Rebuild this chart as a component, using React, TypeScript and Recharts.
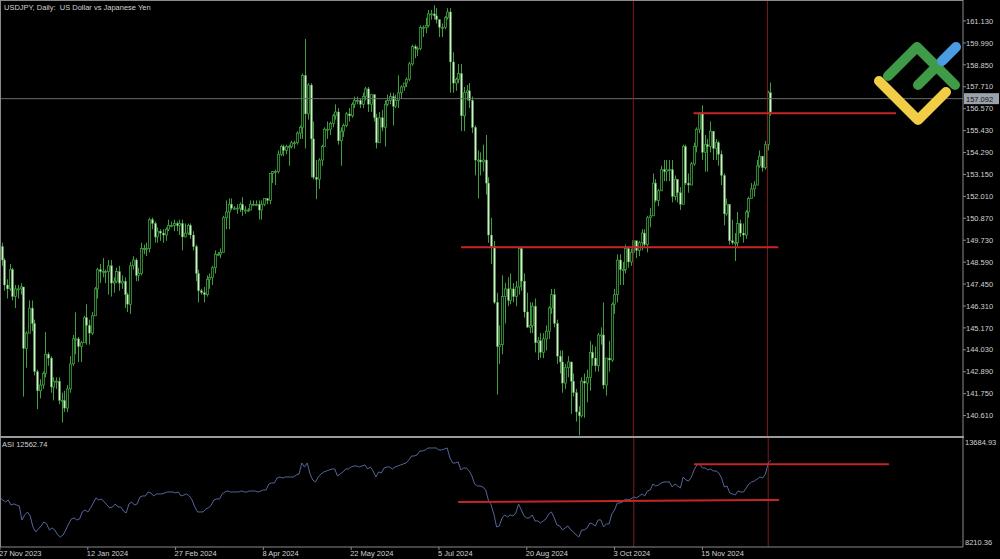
import React from "react";
import { ComposedChart, Bar, Line, XAxis, YAxis, ReferenceLine } from "recharts";

// USDJPY daily candles + ASI indicator, MT-style dark chart

const dateLabels = ["27 Nov 2023", "12 Jan 2024", "27 Feb 2024", "8 Apr 2024", "22 May 2024", "5 Jul 2024", "20 Aug 2024", "3 Oct 2024", "15 Nov 2024"];
const labelBars = [0, 32, 64, 96, 128, 160, 192, 224, 256];
const priceTicks = [161.13, 159.99, 158.85, 157.71, 156.57, 155.43, 154.29, 153.15, 152.01, 150.87, 149.73, 148.59, 147.45, 146.31, 145.17, 144.03, 142.89, 141.75, 140.61];

const firstOpen = 149.4;
const closes = [
  148.7, 147.4, 147.2, 148.2, 146.8, 147.2, 147.2, 147.3, 144.1, 144.9,
  146.2, 145.4, 142.9, 141.9, 142.2, 142.8, 143.8, 143.6, 142.1, 142.4,
  142.4, 141.4, 141.4, 141.0, 142.0, 143.3, 144.6, 144.6, 144.2, 144.4,
  145.7, 145.3, 144.9, 145.8, 147.2, 148.2, 148.1, 148.1, 148.1, 148.4,
  147.5, 147.6, 148.1, 147.5, 147.6, 146.9, 146.4, 148.4, 148.7, 147.9,
  148.0, 149.3, 149.3, 149.3, 150.8, 150.6, 149.9, 150.2, 150.1, 150.0,
  150.3, 150.5, 150.5, 150.6, 150.5, 150.6, 149.9, 150.1, 150.5, 150.0,
  149.4, 148.0, 147.1, 147.0, 146.9, 147.7, 147.8, 148.3, 149.0, 149.0,
  149.1, 150.9, 151.2, 151.6, 151.4, 151.4, 151.4, 151.6, 151.3, 151.3,
  151.3, 151.6, 151.6, 151.6, 151.3, 151.6, 151.9, 151.8, 153.2, 153.3,
  153.3, 154.2, 154.6, 154.4, 154.6, 154.6, 154.8, 154.8, 155.3, 155.6,
  158.3, 156.3, 157.8, 155.0, 153.0, 152.9, 153.9, 154.6, 155.5, 155.5,
  155.8, 156.2, 156.4, 154.9, 155.4, 155.7, 156.3, 156.2, 156.8, 157.0,
  157.0, 156.8, 157.2, 157.6, 156.8, 157.3, 156.1, 154.8, 156.1, 155.6,
  156.8, 157.0, 157.2, 156.7, 157.0, 157.4, 157.7, 157.9, 158.1, 158.9,
  159.8, 159.7, 159.7, 160.8, 160.8, 160.9, 161.5, 161.5, 161.4, 161.2,
  160.8, 160.8, 161.3, 161.6, 159.0, 157.9, 158.1, 158.4, 156.2, 157.4,
  157.5, 157.0, 155.6, 153.9, 153.9, 153.8, 153.9, 152.7, 150.0, 149.4,
  146.5, 144.2, 144.3, 146.8, 147.2, 146.6, 147.2, 146.8, 147.3, 149.3,
  147.6, 146.0, 145.2, 145.3, 146.3, 144.4, 144.5, 143.9, 144.6, 145.0,
  146.2, 146.9, 145.4, 143.7, 143.4, 142.3, 143.1, 143.4, 142.4, 141.8,
  140.8, 140.6, 142.4, 142.3, 142.6, 143.9, 143.6, 143.2, 144.8, 144.8,
  142.2, 143.6, 143.5, 146.4, 146.9, 148.7, 148.2, 148.2, 149.3, 148.6,
  149.1, 149.7, 149.2, 149.6, 150.1, 149.5, 150.9, 151.0, 152.7, 151.8,
  152.3, 153.4, 153.3, 153.4, 153.4, 152.0, 152.9, 152.2, 151.6, 154.6,
  152.7, 152.6, 153.7, 154.6, 155.5, 156.3, 154.3, 154.7, 154.6, 155.4,
  154.5, 154.8, 154.2, 153.1, 151.1, 151.6, 149.7, 149.6, 149.6, 150.6,
  150.1, 150.0, 151.2, 151.9, 152.4, 152.6, 153.6, 154.1, 153.5, 154.7,
  157.4, 156.4,
];
const highs = [
  149.6, 148.8, 147.7, 148.5, 148.3, 147.4, 147.4, 147.5, 147.3, 145.0,
  146.6, 146.6, 145.6, 143.0, 142.5, 142.9, 144.95, 143.9, 143.7, 142.6,
  142.6, 142.6, 141.8, 141.9, 142.2, 143.7, 144.8, 145.98, 144.7, 144.5,
  145.8, 146.4, 145.6, 146.0, 147.3, 148.3, 148.5, 148.8, 148.2, 148.7,
  148.7, 147.8, 148.3, 148.4, 147.9, 147.8, 147.0, 148.6, 148.9, 148.8,
  148.3, 149.6, 149.5, 149.6, 150.9, 150.9, 150.7, 150.4, 150.3, 150.3,
  150.4, 150.8, 150.7, 150.8, 150.7, 150.8, 150.8, 150.6, 150.6, 150.6,
  150.2, 149.5, 148.2, 147.2, 147.3, 147.9, 148.0, 148.4, 149.2, 149.1,
  149.3, 151.0, 151.8, 151.9, 151.9, 151.5, 151.6, 151.7, 151.97, 151.5,
  151.4, 151.8, 151.8, 151.8, 151.8, 151.8, 151.9, 151.9, 153.2, 153.3,
  153.4, 154.4, 154.7, 154.7, 154.7, 154.7, 154.9, 154.9, 155.4, 155.7,
  158.4, 160.2, 157.9, 157.9, 155.9, 153.9, 154.0, 154.7, 155.6, 155.9,
  155.9, 156.3, 156.8, 156.6, 155.6, 155.8, 156.4, 156.6, 156.9, 157.2,
  157.2, 157.1, 157.4, 157.7, 157.7, 157.3, 157.3, 156.3, 156.4, 156.5,
  157.0, 157.3, 157.4, 157.4, 157.3, 158.3, 157.8, 157.9, 158.2, 159.0,
  159.9, 159.9, 159.8, 160.9, 160.9, 161.3, 161.7, 161.7, 161.95, 161.8,
  161.2, 161.0, 161.4, 161.8, 161.8, 159.5, 158.2, 158.9, 158.9, 157.7,
  157.8, 157.9, 157.2, 155.7, 154.4, 154.3, 154.7, 155.2, 153.0, 150.9,
  149.7, 147.0, 145.3, 147.9, 147.5, 147.8, 148.0, 147.5, 147.6, 149.4,
  149.3, 148.0, 147.0, 146.5, 146.5, 146.7, 144.7, 144.9, 144.9, 145.3,
  146.3, 147.2, 147.2, 145.6, 144.0, 144.0, 143.3, 143.7, 143.4, 142.8,
  142.0, 141.1, 142.6, 142.8, 143.0, 144.5, 144.3, 144.2, 144.9, 145.2,
  146.5, 143.6, 144.5, 146.5, 147.2, 149.0, 149.0, 148.6, 149.5, 149.4,
  149.3, 149.7, 149.7, 149.7, 150.3, 150.3, 151.0, 151.4, 153.2, 152.9,
  152.4, 153.6, 153.9, 153.9, 153.9, 153.9, 153.1, 152.6, 152.5, 154.7,
  154.7, 153.2, 153.8, 154.8, 155.6, 156.4, 156.75, 155.2, 155.0, 155.9,
  155.3, 155.0, 154.9, 154.4, 153.2, 151.9, 151.5, 150.8, 150.1, 151.2,
  150.8, 150.6, 151.3, 152.0, 152.7, 152.8, 153.9, 154.4, 154.1, 154.9,
  157.5, 157.93,
];
const lows = [
  148.4, 147.1, 146.7, 147.1, 146.6, 146.2, 146.7, 146.9, 141.6, 143.1,
  144.9, 145.0, 142.7, 140.95, 141.5, 142.0, 142.6, 143.2, 141.8, 141.4,
  142.0, 141.2, 140.25, 140.8, 140.8, 141.8, 143.2, 143.8, 143.4, 143.4,
  144.4, 144.3, 144.3, 144.8, 145.8, 146.7, 147.5, 147.8, 147.5, 146.9,
  146.8, 147.0, 147.5, 147.1, 147.2, 146.2, 146.0, 145.9, 148.2, 147.6,
  147.6, 147.9, 149.0, 148.9, 149.1, 150.3, 149.6, 149.6, 149.7, 149.6,
  149.7, 150.2, 150.4, 150.2, 150.2, 150.0, 149.2, 149.9, 150.0, 149.8,
  149.2, 147.6, 146.5, 146.9, 146.5, 146.8, 147.2, 147.4, 148.0, 148.9,
  148.8, 149.2, 150.3, 150.3, 151.3, 151.3, 151.1, 151.2, 151.0, 151.1,
  151.2, 151.3, 151.5, 151.5, 150.8, 150.8, 151.5, 151.6, 151.6, 152.7,
  152.6, 153.2, 154.1, 154.1, 154.2, 153.6, 154.5, 154.5, 154.7, 155.0,
  155.0, 154.5, 156.0, 153.0, 152.9, 151.86, 152.4, 153.6, 154.6, 155.0,
  155.2, 155.6, 156.0, 154.7, 153.6, 155.1, 155.6, 155.9, 156.1, 156.6,
  156.8, 156.6, 156.6, 157.0, 156.4, 156.4, 155.9, 154.5, 154.8, 155.4,
  154.6, 156.7, 156.8, 155.7, 156.6, 156.6, 157.1, 157.5, 157.7, 158.0,
  158.8, 159.2, 159.3, 159.6, 160.3, 160.5, 160.8, 161.2, 161.2, 161.0,
  160.3, 160.3, 160.7, 161.2, 157.4, 157.4, 157.5, 157.9, 155.4, 155.4,
  157.0, 156.6, 155.3, 153.1, 151.9, 153.1, 153.3, 152.1, 149.6, 148.5,
  146.4, 141.7, 143.3, 143.8, 145.4, 146.3, 146.4, 146.5, 146.3, 146.9,
  147.1, 145.7, 145.2, 144.9, 144.9, 143.9, 143.5, 143.6, 143.6, 144.0,
  144.6, 145.9, 145.2, 143.3, 142.8, 141.8, 142.0, 142.6, 140.7, 141.6,
  140.3, 139.58, 140.5, 140.5, 141.3, 141.9, 143.2, 142.9, 142.9, 144.3,
  142.0, 141.65, 142.9, 143.4, 145.9, 146.5, 147.4, 147.4, 148.0, 148.3,
  148.4, 149.0, 148.8, 148.9, 149.2, 149.4, 149.1, 150.4, 151.0, 151.7,
  151.5, 152.3, 152.8, 152.8, 152.8, 151.7, 151.8, 151.7, 151.3, 151.6,
  152.6, 152.2, 152.6, 153.6, 154.3, 155.3, 153.9, 153.3, 153.3, 154.3,
  153.9, 153.9, 153.6, 152.6, 150.5, 151.0, 149.5, 149.5, 148.65, 149.4,
  149.9, 149.6, 149.8, 150.9, 151.9, 152.0, 152.6, 153.5, 153.3, 153.4,
  154.4, 156.2,
];
const asiValues = [
  10673, 10573, 10472, 10573, 10322, 10372, 10322, 10271, 9569, 9820,
  9970, 9769, 9217, 8966, 9117, 9267, 9468, 9368, 9067, 9167,
  9067, 8816, 8715, 8816, 9067, 9368, 9619, 9669, 9569, 9619,
  9970, 10071, 9970, 10171, 10422, 10673, 10573, 10623, 10472, 10322,
  10171, 10221, 10372, 10221, 10221, 10020, 9920, 10372, 10472, 10322,
  10372, 10723, 10773, 10773, 10974, 10924, 10773, 10874, 10874, 10874,
  10924, 10974, 10974, 10974, 10924, 10974, 10773, 10824, 10874, 10773,
  10573, 10221, 9970, 9970, 9970, 10121, 10171, 10322, 10573, 10623,
  10623, 10874, 10974, 11024, 10974, 10974, 10974, 10974, 11024, 10974,
  10974, 11024, 11024, 11024, 10974, 11024, 11075, 11075, 11376, 11426,
  11426, 11677, 11727, 11677, 11727, 11727, 11727, 11727, 11828, 11878,
  12430, 12229, 12430, 11878, 11577, 11476, 11727, 11878, 11979, 12029,
  12079, 12129, 12129, 11777, 11878, 11979, 12129, 12129, 12229, 12279,
  12279, 12229, 12279, 12330, 12129, 12229, 12029, 11727, 11979, 11928,
  12179, 12229, 12229, 12129, 12229, 12279, 12330, 12380, 12430, 12581,
  12781, 12781, 12832, 13032, 13032, 13083, 13183, 13183, 13183, 13183,
  13083, 13083, 13133, 13183, 12681, 12430, 12430, 12480, 12079, 12179,
  12179, 12029, 11777, 11376, 11275, 11275, 11225, 11075, 10573, 10322,
  9870, 9217, 9267, 9669, 9820, 9719, 9820, 9769, 9920, 10372,
  10071, 9769, 9669, 9669, 9820, 9519, 9519, 9418, 9519, 9619,
  9870, 9970, 9669, 9318, 9267, 9067, 9167, 9267, 9067, 8966,
  8816, 8715, 9067, 9067, 9167, 9418, 9368, 9267, 9569, 9569,
  9217, 9368, 9368, 9870, 10071, 10422, 10422, 10472, 10623, 10573,
  10623, 10723, 10673, 10773, 10874, 10773, 11024, 11075, 11376, 11275,
  11326, 11426, 11476, 11476, 11476, 11225, 11376, 11275, 11175, 11727,
  11577, 11527, 11727, 12079, 12330, 12380, 12179, 12179, 12079, 12129,
  12029, 12029, 11928, 11677, 11225, 11275, 10924, 10874, 10824, 11024,
  10974, 10974, 11175, 11376, 11476, 11527, 11627, 11727, 11677, 11878,
  12430, 12562.74,
];

const lastPrice = 157.092;
const asiMax = 13684.93;
const asiMin = 8210.36;
const priceMin = 139.497;
const priceMax = 162.222;
const slots = 352;

// trend objects drawn on the chart
const supportLine = { from: 168, to: 284, price: 149.37 };
const resistLine = { from: 253, to: 327, price: 156.33 };
const asiUpper = { from: 253, to: 324, v1: 12365, v2: 12365 };
const asiLower = { from: 167, to: 284, v1: 10472, v2: 10573 };
const markerBars = [231, 280];

const data = Array.from({ length: slots }, (_, i) =>
  i < closes.length
    ? {
        i,
        open: i === 0 ? firstOpen : closes[i - 1],
        close: closes[i],
        high: highs[i],
        low: lows[i],
        range: [lows[i], highs[i]],
        asi: asiValues[i],
      }
    : { i }
);

const WICK = "#3f9f3f";
const BEAR_BODY = "#d4eecb";
const AXIS = "#8a8a8a";
const TEXT = "#d2d2d2";
const FONT = "'Liberation Sans', Arial, sans-serif";
const ASI_PLOT_H = 109;

const Candle = (props: any) => {
  const { x, y, width, height, payload } = props;
  if (!payload || payload.high == null) return null;
  const { open, close, high, low } = payload;
  const ppu = height / (high - low);
  const cx = Math.round(x + width / 2) + 0.5;
  const top = y + (high - Math.max(open, close)) * ppu;
  const bot = y + (high - Math.min(open, close)) * ppu;
  const bull = close >= open;
  return (
    <g>
      <line x1={cx} x2={cx} y1={y} y2={y + height} stroke={WICK} strokeWidth={1} />
      <rect
        x={cx - 1}
        y={top}
        width={2}
        height={Math.max(1, bot - top)}
        fill={bull ? "#061206" : BEAR_BODY}
        stroke={WICK}
        strokeWidth={bull ? 0.8 : 0.4}
      />
    </g>
  );
};

const PriceTag = (props: any) => {
  const { viewBox } = props;
  const x = viewBox.x + viewBox.width;
  const y = viewBox.y;
  return (
    <g>
      <rect x={x + 1} y={y - 5.5} width={35} height={11} fill="#9ba2ac" />
      <text x={x + 3} y={y + 3} fontSize={7.5} fontFamily={FONT} fill="#111">
        {lastPrice.toFixed(3)}
      </text>
    </g>
  );
};

const DateTick = (props: any) => {
  const { x, payload } = props;
  const idx = labelBars.indexOf(payload.value);
  return (
    <g>
      <line x1={x} x2={x} y1={ASI_PLOT_H} y2={ASI_PLOT_H + 3} stroke={AXIS} />
      <text x={x - 1} y={ASI_PLOT_H + 9} fontSize={7.5} fontFamily={FONT} fill={TEXT} textAnchor="start">
        {dateLabels[idx]}
      </text>
    </g>
  );
};

const AsiTick = (props: any) => {
  const { payload } = props;
  const isTop = payload.value === asiMax;
  return (
    <text x={965} y={isTop ? 7 : ASI_PLOT_H - 2} fontSize={7.5} fontFamily={FONT} fill={TEXT} textAnchor="start">
      {payload.value.toFixed(2)}
    </text>
  );
};

export default function App() {
  return (
    <div
      style={{
        position: "fixed",
        left: 0,
        top: 0,
        width: 1000,
        height: 559,
        background: "#000",
        overflow: "hidden",
        fontFamily: FONT,
      }}
    >
      {/* main price panel */}
      <div style={{ position: "absolute", left: 0, top: 0 }}>
        <ComposedChart
          width={1000}
          height={437}
          data={data}
          margin={{ top: 0, right: 0, bottom: 0, left: 0 }}
          barCategoryGap={0}
          barGap={0}
        >
          <XAxis dataKey="i" type="category" hide />
          <YAxis
            orientation="right"
            width={37}
            type="number"
            domain={[priceMin, priceMax]}
            allowDataOverflow
            ticks={priceTicks}
            interval={0}
            tickFormatter={(v: number) => v.toFixed(3)}
            tick={{ fontSize: 7.5, fill: TEXT, fontFamily: FONT }}
            tickSize={3}
            tickMargin={0}
            tickLine={{ stroke: AXIS }}
            axisLine={{ stroke: AXIS }}
          />
          <ReferenceLine y={lastPrice} stroke="#6a6a6a" strokeWidth={1} label={<PriceTag />} />
          {markerBars.map((b) => (
            <ReferenceLine key={b} x={b} stroke="#7d1c1c" strokeWidth={1} />
          ))}
          <Bar dataKey="range" shape={<Candle />} isAnimationActive={false} />
          <ReferenceLine
            segment={[
              { x: supportLine.from, y: supportLine.price },
              { x: supportLine.to, y: supportLine.price },
            ]}
            stroke="#c42626"
            strokeWidth={2}
          />
          <ReferenceLine
            segment={[
              { x: resistLine.from, y: resistLine.price },
              { x: resistLine.to, y: resistLine.price },
            ]}
            stroke="#c42626"
            strokeWidth={2}
          />
        </ComposedChart>
      </div>

      {/* ASI panel */}
      <div style={{ position: "absolute", left: 0, top: 438 }}>
        <ComposedChart
          width={1000}
          height={121}
          data={data}
          margin={{ top: 0, right: 0, bottom: 0, left: 0 }}
        >
          <XAxis
            dataKey="i"
            type="category"
            height={12}
            ticks={labelBars}
            interval={0}
            tick={<DateTick />}
            tickLine={false}
            axisLine={{ stroke: AXIS }}
          />
          <YAxis
            orientation="right"
            width={37}
            type="number"
            domain={[asiMin, asiMax]}
            allowDataOverflow
            ticks={[asiMax, asiMin]}
            interval={0}
            tick={<AsiTick />}
            tickLine={false}
            axisLine={{ stroke: AXIS }}
          />
          {markerBars.map((b) => (
            <ReferenceLine key={b} x={b} stroke="#7d1c1c" strokeWidth={1} />
          ))}
          <Line
            type="linear"
            dataKey="asi"
            stroke="#56659a"
            strokeWidth={1}
            dot={false}
            isAnimationActive={false}
          />
          <ReferenceLine
            segment={[
              { x: asiUpper.from, y: asiUpper.v1 },
              { x: asiUpper.to, y: asiUpper.v2 },
            ]}
            stroke="#c42626"
            strokeWidth={2}
          />
          <ReferenceLine
            segment={[
              { x: asiLower.from, y: asiLower.v1 },
              { x: asiLower.to, y: asiLower.v2 },
            ]}
            stroke="#c42626"
            strokeWidth={2}
          />
        </ComposedChart>
      </div>

      {/* frame lines */}
      <div style={{ position: "absolute", left: 0, top: 0, width: 963, height: 1, background: AXIS }} />
      <div style={{ position: "absolute", left: 0, top: 0, width: 1, height: 547, background: AXIS }} />
      <div style={{ position: "absolute", left: 0, top: 436, width: 964, height: 2, background: "#9a9a9a" }} />

      {/* captions */}
      <div style={{ position: "absolute", left: 4, top: 3, fontSize: 7.5, color: TEXT, whiteSpace: "pre" }}>
        {"USDJPY, Daily:  US Dollar vs Japanese Yen"}
      </div>
      <div style={{ position: "absolute", left: 2, top: 440, fontSize: 7.5, color: TEXT, whiteSpace: "pre" }}>
        {"ASI " + asiValues[asiValues.length - 1].toFixed(2)}
      </div>

      {/* logo */}
      <svg style={{ position: "absolute", left: 0, top: 0, pointerEvents: "none" }} width={1000} height={559}>
        <g fill="none" strokeLinecap="round" strokeLinejoin="round" strokeWidth={10}>
          <polyline points="879,81 918,120 946,92" stroke="#f2cd47" />
          <polyline points="888,76 917,47 955,85" stroke="#3f9b47" />
          <line x1={918} y1={85} x2={939} y2={64} stroke="#3f9b47" />
          <line x1={942} y1={61} x2={956} y2={47} stroke="#4a9de3" />
        </g>
      </svg>
    </div>
  );
}
